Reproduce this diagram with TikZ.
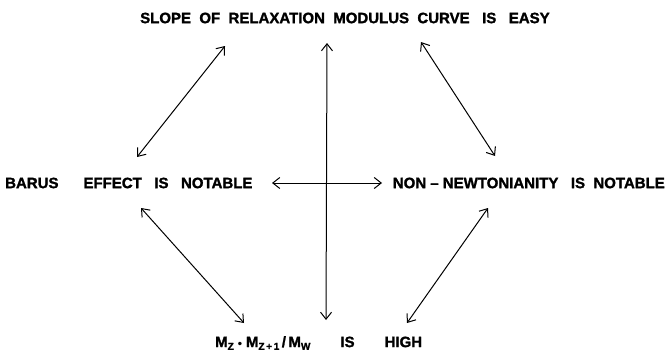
\documentclass[tikz,border=0pt]{standalone}
\usepackage{fontspec}
\setmainfont{Liberation Sans}[BoldFeatures={FakeBold=1.5}]
\usetikzlibrary{arrows.meta}
\newcommand{\sbs}[1]{{\fontsize{10}{10}\selectfont\raisebox{-0.5ex}{#1}}}
\begin{document}
\begin{tikzpicture}[x=1pt,y=-1pt,
  lbl/.style={inner sep=0pt,anchor=west,font=\fontsize{15}{17}\bfseries\selectfont},
  rel/.style={{Straight Barb[length=7pt,width=11pt]}-{Straight Barb[length=7pt,width=11pt]},line width=1pt}]
\useasboundingbox (0,0) rectangle (667,356);
\node[lbl] (top) at (140,18) {SLOPE\ \ OF\ \ RELAXATION\ \ MODULUS\ \ CURVE\ \ \ IS\ \ \ EASY};
\node[lbl] (barus) at (5,183) {BARUS\ \ \ \ \ \ EFFECT\ \ \ IS\ \ \ NOTABLE};
\node[lbl,anchor=east] (nonnewt) at (665,183) {NON -- NEWTONIANITY\ \ \ IS\ \ NOTABLE};
\node[lbl] (mz) at (215,343) {M\sbs{Z}\ {\fontsize{11}{11}\selectfont\textbullet}\ M\sbs{Z\,+\,1}\,/\,M\sbs{W}\qquad IS\qquad HIGH};
\coordinate (tl1) at (225,46);
\coordinate (tl2) at (137,157);
\coordinate (tr1) at (421,42);
\coordinate (tr2) at (495,156);
\coordinate (bl1) at (141,208);
\coordinate (bl2) at (244,323);
\coordinate (br1) at (488,208);
\coordinate (br2) at (407,323);
\coordinate (v1) at (327,43);
\coordinate (v2) at (326,320);
\coordinate (h1) at (272,183);
\coordinate (h2) at (382,183);
\draw[rel] (tl1) -- (tl2);
\draw[rel] (tr1) -- (tr2);
\draw[rel] (bl1) -- (bl2);
\draw[rel] (br1) -- (br2);
\draw[rel] (v1) -- (v2);
\draw[rel] (h1) -- (h2);
\end{tikzpicture}
\end{document}
